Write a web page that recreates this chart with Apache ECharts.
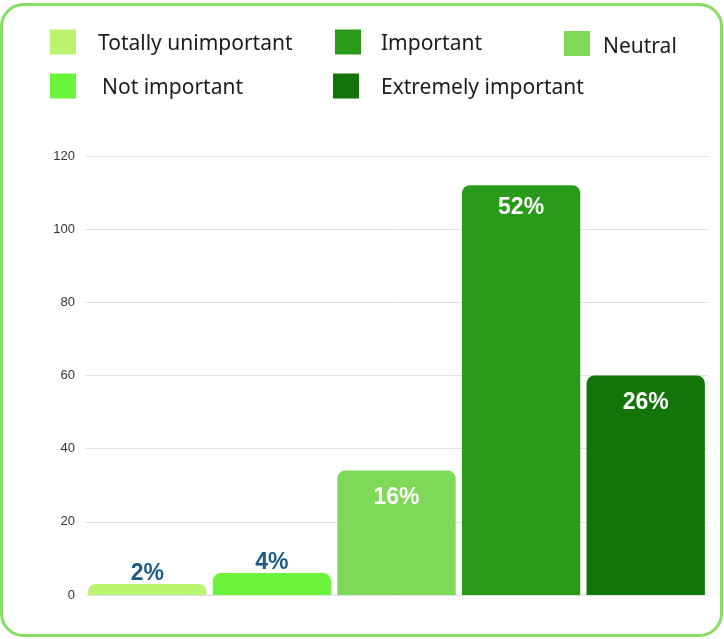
<!DOCTYPE html>
<html>
<head>
<meta charset="utf-8">
<script src="https://cdn.jsdelivr.net/npm/echarts@6/dist/echarts.min.js"></script>
<style>
  html, body { margin: 0; padding: 0; background: #ffffff; }
  #chart { width: 724px; height: 639px; }
</style>
</head>
<body>
<div id="chart"></div>
<script>
// Survey answers: number of respondents per importance level
const categories = ['Totally unimportant', 'Not important', 'Neutral', 'Important', 'Extremely important'];
const counts = [3, 6, 34, 112, 60];
const percentLabels = ['2%', '4%', '16%', '52%', '26%'];
const colors = ['#bbf46f', '#6cf33b', '#7dd957', '#2a9a1b', '#137508'];
const yTicks = { min: 0, max: 120, interval: 20 };

// Label gap above (small bars) or inside the top (tall bars)
const labelDistance = [-1, -1, 16, 11, 16];

// One series per level so every bar gets its own legend entry;
// barGap -100% lets them share the category slot.
const series = categories.map((name, i) => {
  const data = categories.map((_, j) => (j === i ? counts[i] : '-'));
  const small = counts[i] < 10;
  return {
    name: name,
    type: 'bar',
    data: data,
    barGap: '-100%',
    barCategoryGap: '5%',
    itemStyle: { color: colors[i], borderRadius: [8, 8, 0, 0] },
    label: {
      show: true,
      position: small ? 'top' : 'insideTop',
      distance: labelDistance[i],
      color: small ? '#1d5c8a' : '#ffffff',
      fontFamily: 'Liberation Sans',
      fontWeight: 'bold',
      fontSize: 23,
      formatter: p => percentLabels[p.dataIndex]
    }
  };
});

// Legend entries placed in a 3-column layout; a thin spacer line
// above each name nudges the text down next to its swatch.
const legendSlots = [
  { name: categories[0], left: 50, top: 29, indent: 17, drop: 5 },
  { name: categories[1], left: 50, top: 73, indent: 21, drop: 5 },
  { name: categories[3], left: 335, top: 29, indent: 15, drop: 5 },
  { name: categories[4], left: 333, top: 73, indent: 17, drop: 5 },
  { name: categories[2], left: 564, top: 29, indent: 8, drop: 8 }
];
const legends = legendSlots.map(s => ({
  data: [s.name],
  left: s.left,
  top: s.top,
  padding: 0,
  icon: 'rect',
  itemWidth: 26,
  itemHeight: 25,
  selectedMode: false,
  formatter: name => '{sp| }\n{t|' + name + '}',
  textStyle: {
    rich: {
      sp: { fontSize: 1, lineHeight: s.drop, height: s.drop },
      t: {
        fontFamily: 'Noto Sans',
        fontSize: 21,
        color: '#1c1c1c',
        padding: [0, 0, 0, s.indent]
      }
    }
  }
}));

const chart = echarts.init(document.getElementById('chart'), null, { renderer: 'canvas' });
chart.setOption({
  animation: false,
  backgroundColor: '#ffffff',
  legend: legends,
  graphic: [{
    type: 'rect',
    shape: { x: 1.5, y: 4.5, width: 720, height: 631, r: 22 },
    style: { fill: 'none', stroke: '#86df60', lineWidth: 3 },
    silent: true,
    z: 100
  }],
  grid: { left: 85, right: 16, top: 156, bottom: 44 },
  xAxis: {
    type: 'category',
    data: categories,
    axisLine: { show: false },
    axisTick: { show: false },
    axisLabel: { show: false }
  },
  yAxis: {
    type: 'value',
    min: yTicks.min,
    max: yTicks.max,
    interval: yTicks.interval,
    axisLine: { show: false },
    axisTick: { show: false },
    axisLabel: { color: '#333333', fontSize: 13, fontFamily: 'Liberation Sans', margin: 10 },
    splitLine: { lineStyle: { color: '#e2e2e2', width: 1 } }
  },
  series: series
});
</script>
</body>
</html>
